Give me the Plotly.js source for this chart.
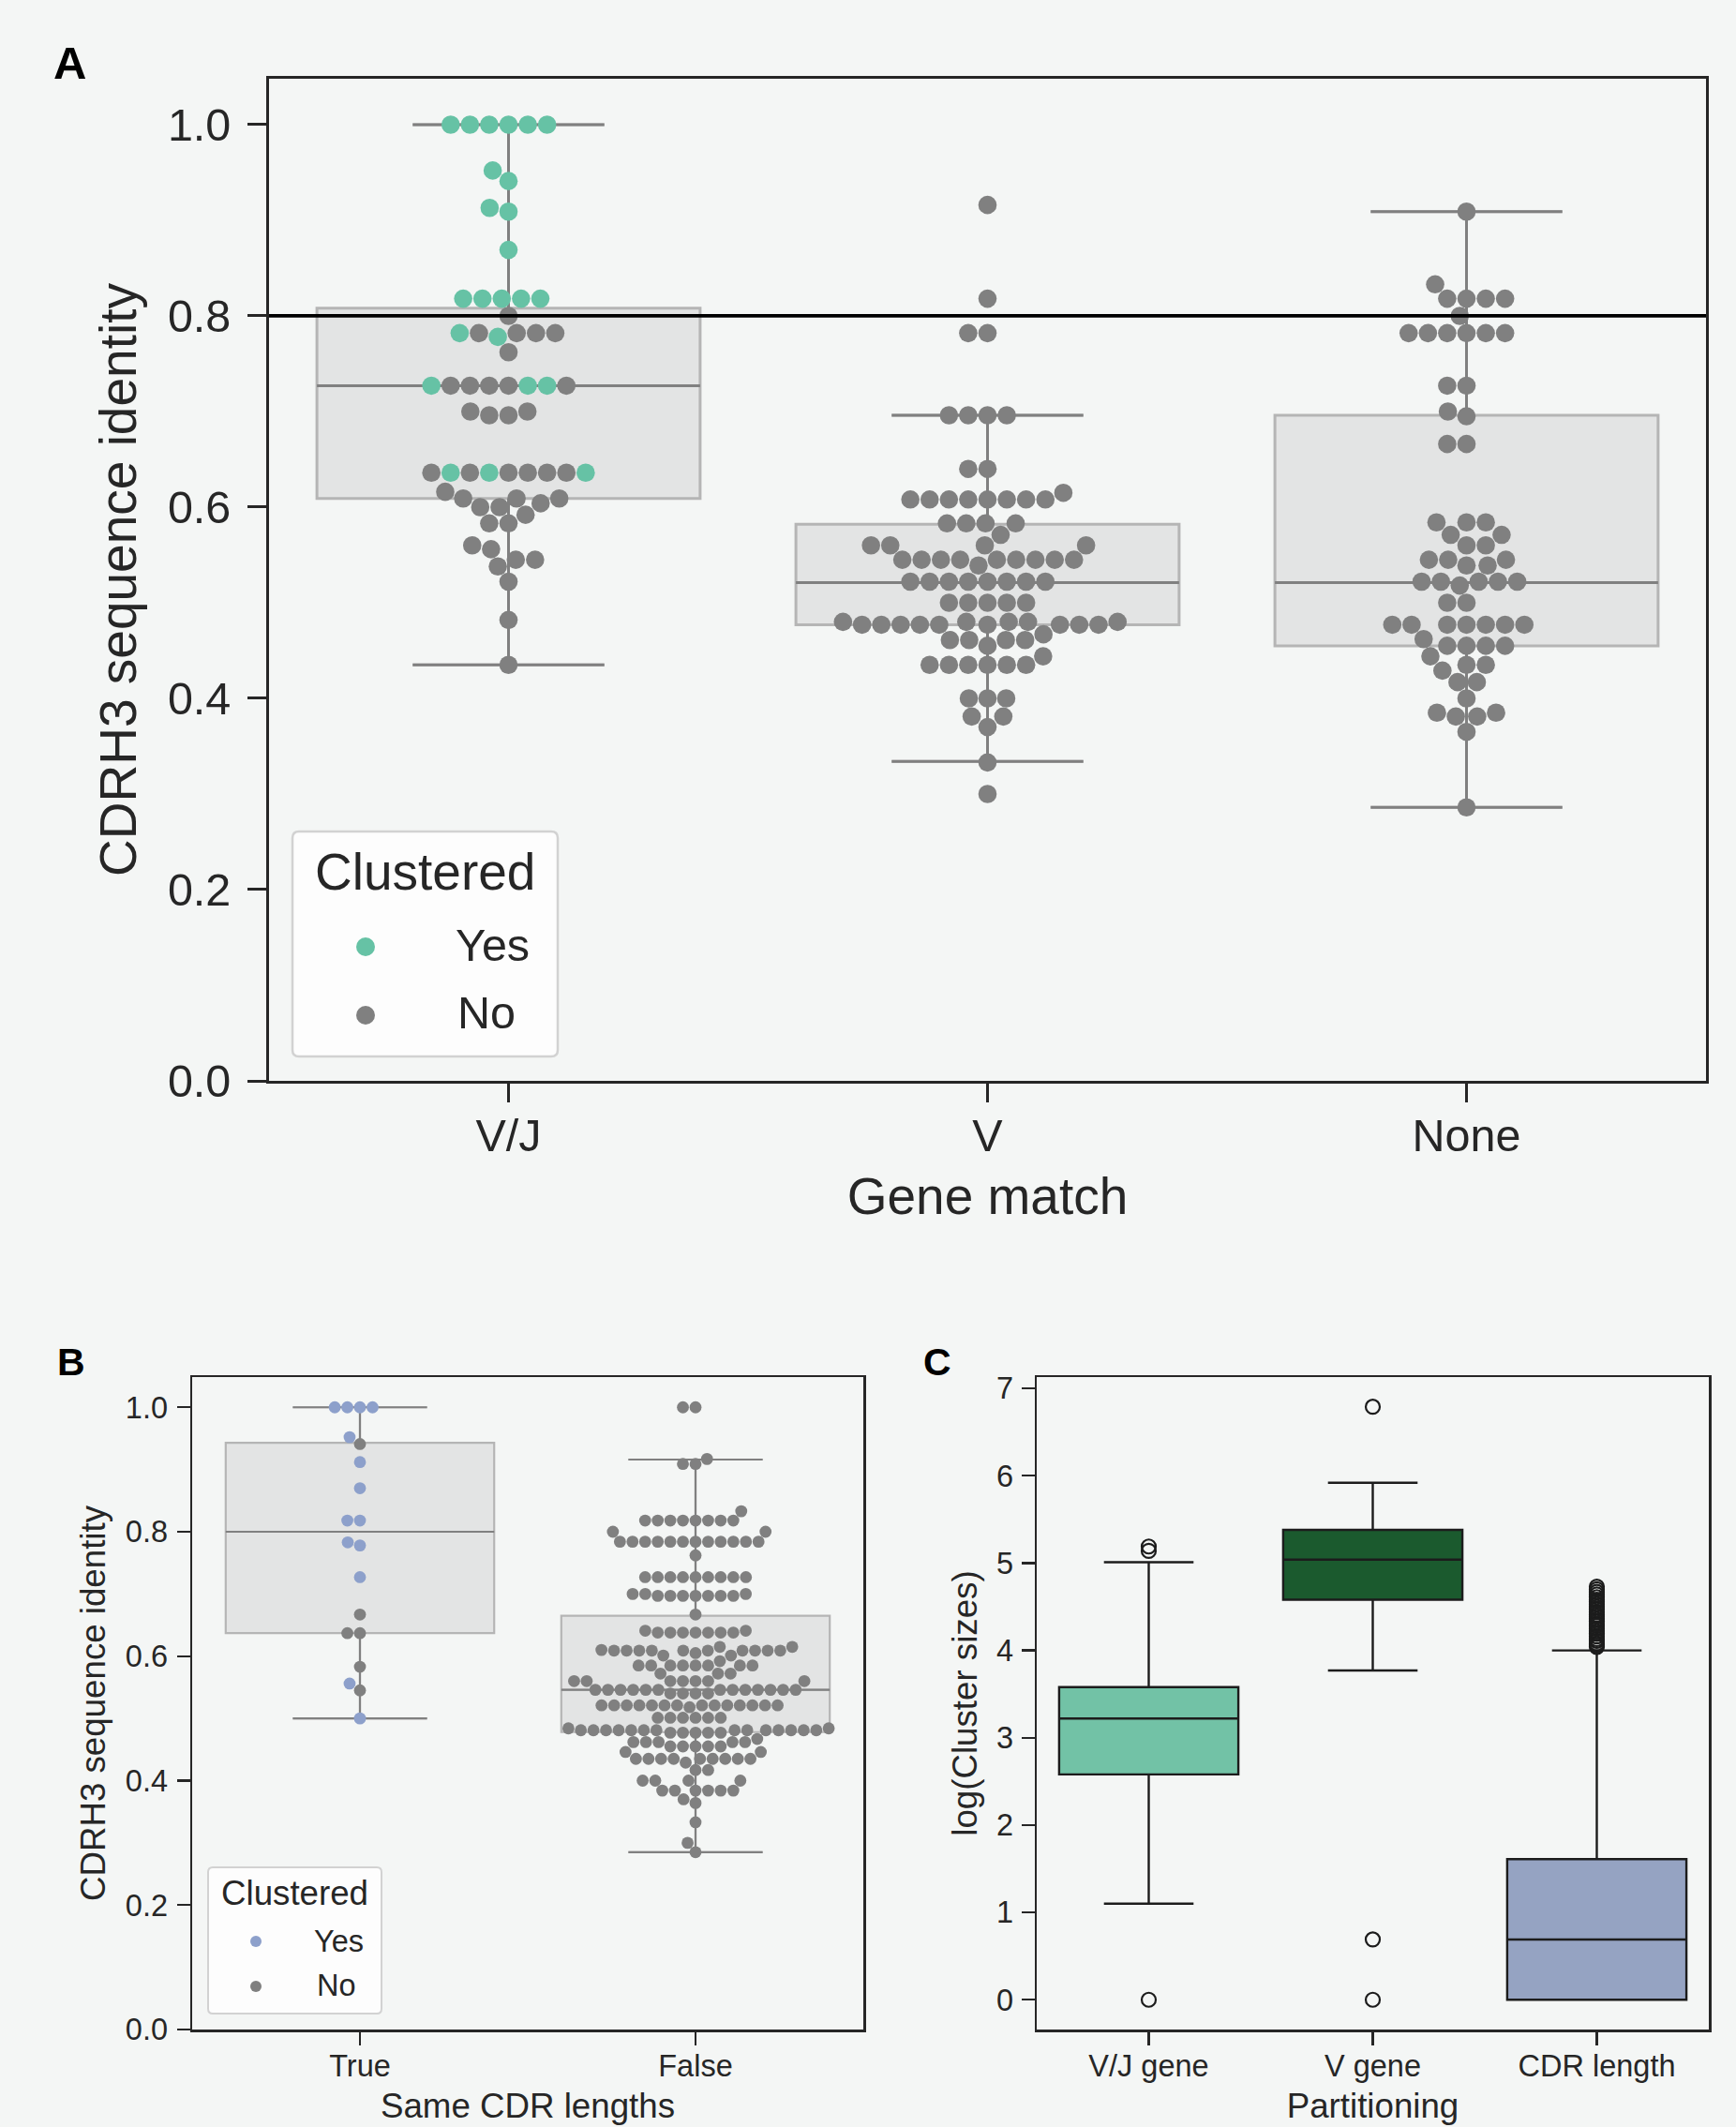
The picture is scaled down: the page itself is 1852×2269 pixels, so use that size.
<!DOCTYPE html>
<html>
<head>
<meta charset="utf-8">
<script src="https://cdn.plot.ly/plotly-3.0.1.min.js"></script>
<style>
html, body { margin: 0; padding: 0; background: #f4f6f5; }
#chart { width: 1852px; height: 2269px; }
</style>
</head>
<body>
<div id="chart"></div>
<script>
// ===================== DATA =====================
// Panel A: CDRH3 sequence identity by gene match
const geneMatch = ['V/J', 'V', 'None'];
const identityTicks = [0, 0.2, 0.4, 0.6, 0.8, 1.0];
const identityTickLabels = ['0.0', '0.2', '0.4', '0.6', '0.8', '1.0'];
const identityThreshold = 0.8;

const identityVJ = [
  1.0, 1.0, 1.0, 1.0, 1.0, 1.0,
  0.952, 0.941, 0.913, 0.909, 0.869,
  0.818, 0.818, 0.818, 0.818, 0.818,
  0.800,
  0.782, 0.782, 0.782, 0.782, 0.782,
  0.778, 0.762,
  0.727, 0.727, 0.727, 0.727, 0.727, 0.727, 0.727, 0.727,
  0.700, 0.700, 0.696, 0.696,
  0.636, 0.636, 0.636, 0.636, 0.636, 0.636, 0.636, 0.636, 0.636,
  0.616, 0.609, 0.609, 0.609, 0.604, 0.600, 0.600, 0.592, 0.583, 0.583,
  0.560, 0.556, 0.545, 0.545, 0.538, 0.522, 0.482, 0.435
];
const clusteredVJ = [
  1, 1, 1, 1, 1, 1,
  1, 1, 1, 1, 1,
  1, 1, 1, 1, 1,
  0,
  0, 0, 0, 0, 1,
  1, 0,
  0, 0, 1, 0, 1, 0, 0, 1,
  0, 0, 0, 0,
  0, 1, 0, 0, 0, 1, 0, 0, 1,
  0, 0, 0, 0, 0, 0, 0, 0, 0, 0,
  0, 0, 0, 0, 0, 0, 0, 0
];
const identityV = [
  0.916, 0.818, 0.782, 0.782,
  0.696, 0.696, 0.696, 0.696,
  0.640, 0.640, 0.615,
  0.608, 0.608, 0.608, 0.608, 0.608, 0.608, 0.608, 0.608,
  0.583, 0.583, 0.583, 0.583, 0.571,
  0.560, 0.560, 0.560, 0.560,
  0.545, 0.545, 0.545, 0.545, 0.545, 0.545, 0.545, 0.545, 0.545, 0.539,
  0.522, 0.522, 0.522, 0.522, 0.522, 0.522, 0.522, 0.522,
  0.500, 0.500, 0.500, 0.500, 0.500,
  0.480, 0.480, 0.480, 0.480, 0.480,
  0.477, 0.477, 0.477, 0.477, 0.477, 0.477, 0.477, 0.477, 0.477,
  0.467, 0.461, 0.461, 0.461, 0.461, 0.455, 0.444,
  0.435, 0.435, 0.435, 0.435, 0.435, 0.435,
  0.400, 0.400, 0.400, 0.381, 0.381, 0.370, 0.333, 0.300
];
const identityNone = [
  0.909, 0.833, 0.818, 0.818, 0.818, 0.818, 0.800,
  0.782, 0.782, 0.782, 0.782, 0.782, 0.782,
  0.727, 0.727, 0.700, 0.695, 0.666, 0.666,
  0.584, 0.584, 0.584, 0.571, 0.571, 0.560, 0.560,
  0.545, 0.545, 0.545, 0.539, 0.539,
  0.522, 0.522, 0.522, 0.522, 0.522, 0.518, 0.500, 0.500,
  0.477, 0.477, 0.477, 0.477, 0.477, 0.477, 0.477,
  0.462, 0.455, 0.455, 0.455, 0.455, 0.444, 0.435, 0.435, 0.429,
  0.417, 0.417, 0.400, 0.385, 0.385, 0.381, 0.381, 0.365, 0.286
];
// Box statistics for panel A (Q1, median, Q3, whisker ends) per gene match
const boxQ1A = [0.609, 0.477, 0.455];
const boxMedianA = [0.727, 0.521, 0.521];
const boxQ3A = [0.808, 0.582, 0.696];
const whiskerLowA = [0.435, 0.334, 0.286];
const whiskerHighA = [1.0, 0.696, 0.909];

// Panel B: CDRH3 sequence identity by same CDR lengths
const sameCdrLengths = ['True', 'False'];
const identityTrue = [1.0, 1.0, 1.0, 1.0, 0.952, 0.941, 0.912, 0.870, 0.818, 0.818,
  0.783, 0.778, 0.727, 0.667, 0.637, 0.637, 0.583, 0.556, 0.545, 0.500];
const clusteredTrue = [1, 1, 1, 1, 1, 0, 1, 1, 1, 1,
  1, 1, 1, 0, 0, 0, 0, 1, 0, 1];
const identityFalse = [
  1.0, 1.0, 0.917, 0.909, 0.909, 0.833,
  0.818, 0.818, 0.818, 0.818, 0.818, 0.818, 0.818, 0.818,
  0.800, 0.800,
  0.784, 0.784, 0.784, 0.784, 0.784, 0.784, 0.784, 0.784, 0.784, 0.784, 0.784, 0.784,
  0.762,
  0.727, 0.727, 0.727, 0.727, 0.727, 0.727, 0.727, 0.727, 0.727,
  0.700, 0.700, 0.700, 0.697, 0.697, 0.697, 0.697, 0.697, 0.697, 0.697,
  0.667, 0.641, 0.641,
  0.638, 0.638, 0.638, 0.638, 0.638, 0.638, 0.638,
  0.615, 0.615, 0.610,
  0.609, 0.609, 0.609, 0.609, 0.609, 0.609, 0.609, 0.609, 0.609, 0.609,
  0.605, 0.601, 0.601, 0.592,
  0.585, 0.585, 0.585, 0.585, 0.585, 0.585, 0.585, 0.585,
  0.572, 0.572, 0.572,
  0.560, 0.560, 0.560, 0.560, 0.560, 0.560, 0.560,
  0.546, 0.546, 0.546, 0.546, 0.546, 0.546, 0.546, 0.546, 0.546, 0.546, 0.546, 0.546, 0.546,
  0.540, 0.540, 0.540, 0.540,
  0.521, 0.521, 0.521, 0.521, 0.521, 0.521, 0.521, 0.521, 0.521, 0.521, 0.521, 0.521, 0.521, 0.521,
  0.518,
  0.501, 0.501, 0.501, 0.501, 0.501, 0.501,
  0.484, 0.484,
  0.481, 0.481, 0.481, 0.481, 0.481, 0.481, 0.481, 0.481, 0.481, 0.481, 0.481, 0.481, 0.481, 0.481,
  0.477, 0.477, 0.477, 0.477, 0.477,
  0.467,
  0.462, 0.462, 0.462, 0.462, 0.462,
  0.455, 0.455, 0.455, 0.455, 0.455,
  0.446, 0.446,
  0.435, 0.435, 0.435, 0.435, 0.435, 0.435, 0.435, 0.435, 0.435,
  0.429, 0.417, 0.417,
  0.400, 0.400, 0.400, 0.400,
  0.384, 0.384, 0.384, 0.384, 0.384, 0.384,
  0.370, 0.364, 0.333, 0.300, 0.285
];
const boxQ1B = [0.637, 0.478];
const boxMedianB = [0.800, 0.546];
const boxQ3B = [0.943, 0.665];
const whiskerLowB = [0.500, 0.285];
const whiskerHighB = [1.0, 0.916];

// Panel C: log(cluster sizes) by partitioning
const partitions = ['V/J gene', 'V gene', 'CDR length'];
const logTicks = [0, 1, 2, 3, 4, 5, 6, 7];
const logQ1 = [2.58, 4.58, 0.00];
const logMedian = [3.22, 5.04, 0.69];
const logQ3 = [3.58, 5.38, 1.61];
const logWhiskerLow = [1.10, 3.77, 0.00];
const logWhiskerHigh = [5.01, 5.92, 4.00];
const outliersVJgene = [5.19, 5.14, 0.00];
const outliersVgene = [6.79, 0.69, 0.00];
const outliersCdrLength = [4.04, 4.06, 4.08, 4.11, 4.13, 4.16, 4.19, 4.22, 4.25, 4.28, 4.30, 4.33,
  4.36, 4.39, 4.41, 4.44, 4.47, 4.50, 4.53, 4.56, 4.58, 4.61, 4.64, 4.67, 4.70, 4.73];

// ===================== STYLE / LAYOUT CONSTANTS =====================
const W = 1852, H = 2269;
const BG = '#f4f6f5';
const INK = '#262626';
const TEAL = '#66c2a5', GREY = '#808080', BLUE = '#8da0cb';
const BOX_FILL = '#e3e4e4', BOX_EDGE = '#b5b5b5';
const C_FILLS = ['#72c2a6', '#1b5a2e', '#95a3c2'];
const FONT = 'Liberation Sans, Arial, Helvetica, sans-serif';
const DOT_A = 19.6, DOT_B = 12.8;

const R = {
  A: { l: 287, r: 1820, t: 84, b: 1153 },
  B: { l: 205, r: 921, t: 1469, b: 2165 },
  C: { l: 1106, r: 1823, t: 1469, b: 2165 }
};
const rangeA = [0, 1.048], rangeB = [0, 1.0486], rangeC = [-0.341, 7.13];
const fx = p => p / W;
const fy = p => 1 - p / H;

// ===================== SWARM LAYOUT (seaborn-like beeswarm) =====================
function swarmX(values, cat, pxPerCat, pxPerUnit, diameter) {
  const r = diameter / 2;
  const order = values.map((v, i) => i).sort((a, b) => (values[a] - values[b]) || (a - b));
  const placed = [];
  for (const i of order) {
    const y = values[i] * pxPerUnit;
    const nb = [];
    for (let k = placed.length - 1; k >= 0; k--) {
      if (y - placed[k].y < 2 * r) nb.unshift(placed[k]); else break;
    }
    const cands = [{ x: 0, y }];
    let leftFirst = true;
    for (const n of nb) {
      const dy = y - n.y;
      const dx = Math.sqrt(Math.max(4 * r * r - dy * dy, 0)) * 1.05;
      const cl = { x: n.x - dx, y }, cr = { x: n.x + dx, y };
      if (leftFirst) cands.push(cl, cr); else cands.push(cr, cl);
      leftFirst = !leftFirst;
    }
    const ord = cands.map((c, k) => k).sort((a, b) => (Math.abs(cands[a].x) - Math.abs(cands[b].x)) || (a - b));
    let chosen = cands[0];
    for (const k of ord) {
      const c = cands[k];
      let ok = true;
      for (const n of nb) {
        const ddx = c.x - n.x, ddy = c.y - n.y;
        if (ddx * ddx + ddy * ddy < 4 * r * r - 1e-6) { ok = false; break; }
      }
      if (ok) { chosen = c; break; }
    }
    placed.push({ x: chosen.x, y, i });
  }
  const out = new Array(values.length);
  for (const p of placed) {
    let off = p.x / pxPerCat;
    off = Math.max(-0.4, Math.min(0.4, off));
    out[p.i] = cat + off;
  }
  return out;
}

const pxCatA = (R.A.r - R.A.l) / geneMatch.length;
const pxUnitA = (R.A.b - R.A.t) / (rangeA[1] - rangeA[0]);
const pxCatB = (R.B.r - R.B.l) / sameCdrLengths.length;
const pxUnitB = (R.B.b - R.B.t) / (rangeB[1] - rangeB[0]);

const xVJ = swarmX(identityVJ, 0, pxCatA, pxUnitA, DOT_A);
const xV = swarmX(identityV, 1, pxCatA, pxUnitA, DOT_A);
const xNone = swarmX(identityNone, 2, pxCatA, pxUnitA, DOT_A);
const xTrue = swarmX(identityTrue, 0, pxCatB, pxUnitB, DOT_B);
const xFalse = swarmX(identityFalse, 1, pxCatB, pxUnitB, DOT_B);

function pick(xs, ys, flags, want) {
  const ox = [], oy = [];
  xs.forEach((x, i) => { if ((flags ? flags[i] : 0) === want) { ox.push(x); oy.push(ys[i]); } });
  return { x: ox, y: oy };
}

// ===================== TRACES =====================
const traces = [];

function greyBoxes(xa, ya, n, q1, med, q3, lo, hi, lw) {
  for (let i = 0; i < n; i++) {
    traces.push({
      type: 'box', xaxis: xa, yaxis: ya, x: [i],
      q1: [q1[i]], median: [med[i]], q3: [q3[i]], lowerfence: [lo[i]], upperfence: [hi[i]],
      width: 0.8, whiskerwidth: 0.5, fillcolor: BOX_FILL,
      line: { color: BOX_EDGE, width: lw }, boxpoints: false, showlegend: false, hoverinfo: 'skip'
    });
  }
}
function whiskerLines(xa, ya, n, q1, med, q3, lo, hi, lw) {
  const xs = [], ys = [];
  for (let i = 0; i < n; i++) {
    xs.push(i - 0.4, i + 0.4, null, i, i, null, i - 0.2, i + 0.2, null, i, i, null, i - 0.2, i + 0.2, null);
    ys.push(med[i], med[i], null, q1[i], lo[i], null, lo[i], lo[i], null, q3[i], hi[i], null, hi[i], hi[i], null);
  }
  traces.push({
    type: 'scatter', mode: 'lines', xaxis: xa, yaxis: ya, x: xs, y: ys,
    line: { color: GREY, width: lw }, showlegend: false, hoverinfo: 'skip'
  });
}

// Panel A boxes
greyBoxes('x', 'y', 3, boxQ1A, boxMedianA, boxQ3A, whiskerLowA, whiskerHighA, 3);
// Panel B boxes
greyBoxes('x2', 'y2', 2, boxQ1B, boxMedianB, boxQ3B, whiskerLowB, whiskerHighB, 2.2);
// Panel C boxes
partitions.forEach((p, i) => {
  traces.push({
    type: 'box', xaxis: 'x3', yaxis: 'y3', x: [i],
    q1: [logQ1[i]], median: [logMedian[i]], q3: [logQ3[i]],
    lowerfence: [logWhiskerLow[i]], upperfence: [logWhiskerHigh[i]],
    width: 0.8, whiskerwidth: 0.5, fillcolor: C_FILLS[i],
    line: { color: '#1c1c1c', width: 2.4 }, boxpoints: false, showlegend: false, hoverinfo: 'skip'
  });
});

whiskerLines('x', 'y', 3, boxQ1A, boxMedianA, boxQ3A, whiskerLowA, whiskerHighA, 3);
whiskerLines('x2', 'y2', 2, boxQ1B, boxMedianB, boxQ3B, whiskerLowB, whiskerHighB, 2.2);

// Panel A points
const allAx = xVJ.concat(xV, xNone);
const allAy = identityVJ.concat(identityV, identityNone);
const allAf = clusteredVJ.concat(identityV.map(() => 0), identityNone.map(() => 0));
const aNo = pick(allAx, allAy, allAf, 0), aYes = pick(allAx, allAy, allAf, 1);
traces.push({ type: 'scatter', mode: 'markers', xaxis: 'x', yaxis: 'y', x: aNo.x, y: aNo.y, name: 'No',
  marker: { color: GREY, size: DOT_A, line: { width: 0 } }, showlegend: false, cliponaxis: false });
traces.push({ type: 'scatter', mode: 'markers', xaxis: 'x', yaxis: 'y', x: aYes.x, y: aYes.y, name: 'Yes',
  marker: { color: TEAL, size: DOT_A, line: { width: 0 } }, showlegend: false, cliponaxis: false });

// Panel B points
const allBx = xTrue.concat(xFalse);
const allBy = identityTrue.concat(identityFalse);
const allBf = clusteredTrue.concat(identityFalse.map(() => 0));
const bNo = pick(allBx, allBy, allBf, 0), bYes = pick(allBx, allBy, allBf, 1);
traces.push({ type: 'scatter', mode: 'markers', xaxis: 'x2', yaxis: 'y2', x: bNo.x, y: bNo.y, name: 'No',
  marker: { color: GREY, size: DOT_B, line: { width: 0 } }, showlegend: false, cliponaxis: false });
traces.push({ type: 'scatter', mode: 'markers', xaxis: 'x2', yaxis: 'y2', x: bYes.x, y: bYes.y, name: 'Yes',
  marker: { color: BLUE, size: DOT_B, line: { width: 0 } }, showlegend: false, cliponaxis: false });

// Panel C outliers
const outlierSets = [outliersVJgene, outliersVgene, outliersCdrLength];
outlierSets.forEach((vals, i) => {
  traces.push({ type: 'scatter', mode: 'markers', xaxis: 'x3', yaxis: 'y3',
    x: vals.map(() => i), y: vals,
    marker: { symbol: 'circle-open', color: '#1c1c1c', size: 15, line: { width: 2.2, color: '#1c1c1c' } },
    showlegend: false, cliponaxis: false });
});

// ===================== AXES =====================
function axis(extra, big) {
  return Object.assign({
    showline: true, mirror: true, linecolor: INK, linewidth: big ? 3 : 2.5,
    ticks: 'outside', ticklen: big ? 20 : 14, tickwidth: big ? 3 : 2.2, tickcolor: INK,
    showgrid: false, zeroline: false, fixedrange: true,
    tickfont: { family: FONT, size: big ? 48.5 : 32.5, color: INK }
  }, extra);
}

const layout = {
  width: W, height: H,
  margin: { l: 0, r: 0, t: 0, b: 0 },
  paper_bgcolor: BG, plot_bgcolor: BG,
  showlegend: false,
  font: { family: FONT, color: INK },
  xaxis: axis({ domain: [fx(R.A.l), fx(R.A.r)], range: [-0.5, 2.5], anchor: 'y',
    tickvals: [0, 1, 2], ticktext: geneMatch, ticklabelstandoff: -6,
    title: { text: 'Gene match', font: { family: FONT, size: 55, color: INK }, standoff: 20 } }, true),
  yaxis: axis({ domain: [fy(R.A.b), fy(R.A.t)], range: rangeA, anchor: 'x',
    tickvals: identityTicks, ticktext: identityTickLabels, ticklabelstandoff: 8,
    title: { text: 'CDRH3 sequence identity', font: { family: FONT, size: 55, color: INK }, standoff: 16 } }, true),
  xaxis2: axis({ domain: [fx(R.B.l), fx(R.B.r)], range: [-0.5, 1.5], anchor: 'y2',
    tickvals: [0, 1], ticktext: sameCdrLengths, ticklabelstandoff: -6,
    title: { text: 'Same CDR lengths', font: { family: FONT, size: 36.7, color: INK }, standoff: 13 } }, false),
  yaxis2: axis({ domain: [fy(R.B.b), fy(R.B.t)], range: rangeB, anchor: 'x2',
    tickvals: identityTicks, ticktext: identityTickLabels, ticklabelstandoff: 3,
    title: { text: 'CDRH3 sequence identity', font: { family: FONT, size: 36.7, color: INK }, standoff: 10 } }, false),
  xaxis3: axis({ domain: [fx(R.C.l), fx(R.C.r)], range: [-0.5, 2.5], anchor: 'y3',
    tickvals: [0, 1, 2], ticktext: partitions, ticklabelstandoff: -6,
    title: { text: 'Partitioning', font: { family: FONT, size: 36.7, color: INK }, standoff: 13 } }, false),
  yaxis3: axis({ domain: [fy(R.C.b), fy(R.C.t)], range: rangeC, anchor: 'x3',
    tickvals: logTicks, ticklabelstandoff: 2,
    title: { text: 'log(Cluster sizes)', font: { family: FONT, size: 36.7, color: INK }, standoff: 9 } }, false),
  shapes: [],
  annotations: []
};

// Threshold line in panel A
layout.shapes.push({ type: 'line', xref: 'x domain', yref: 'y', x0: 0, x1: 1,
  y0: identityThreshold, y1: identityThreshold, line: { color: '#000000', width: 3.8 }, layer: 'above' });

// Rounded legend frame helper
function roundedRect(l, t, r, b, rad) {
  const rx = rad / W, ry = rad / H;
  const L = fx(l), Rr = fx(r), T = fy(t), B = fy(b);
  return `M ${L + rx} ${T} L ${Rr - rx} ${T} Q ${Rr} ${T} ${Rr} ${T - ry} L ${Rr} ${B + ry} Q ${Rr} ${B} ${Rr - rx} ${B} ` +
         `L ${L + rx} ${B} Q ${L} ${B} ${L} ${B + ry} L ${L} ${T - ry} Q ${L} ${T} ${L + rx} ${T} Z`;
}
function legend(frame, rad, lw, title, titleSize, items, itemSize, dot) {
  layout.shapes.push({ type: 'path', xref: 'paper', yref: 'paper', path: roundedRect(frame.l, frame.t, frame.r, frame.b, rad),
    fillcolor: 'rgba(255,255,255,0.8)', line: { color: '#d2d2d2', width: lw }, layer: 'above' });
  layout.annotations.push({ xref: 'paper', yref: 'paper', x: fx(title.x), y: fy(title.y), text: title.text,
    xanchor: 'center', yanchor: 'middle', showarrow: false, font: { family: FONT, size: titleSize, color: INK } });
  items.forEach(it => {
    layout.shapes.push({ type: 'circle', xref: 'paper', yref: 'paper', xsizemode: 'pixel', ysizemode: 'pixel',
      xanchor: fx(it.dx), yanchor: fy(it.dy), x0: -dot / 2, x1: dot / 2, y0: -dot / 2, y1: dot / 2,
      fillcolor: it.color, line: { width: 0 }, layer: 'above' });
    layout.annotations.push({ xref: 'paper', yref: 'paper', x: fx(it.tx), y: fy(it.ty), text: it.text,
      xanchor: 'left', yanchor: 'middle', showarrow: false, font: { family: FONT, size: itemSize, color: INK } });
  });
}
legend({ l: 312, t: 887, r: 595, b: 1127 }, 7, 2.5, { x: 453, y: 930, text: 'Clustered' }, 55,
  [{ dx: 390, dy: 1010, tx: 484, ty: 1008, text: 'Yes', color: TEAL },
   { dx: 390, dy: 1083, tx: 486, ty: 1080, text: 'No', color: GREY }], 48.5, 20);
legend({ l: 222, t: 1992, r: 407, b: 2148 }, 5, 2, { x: 314, y: 2019, text: 'Clustered' }, 36.7,
  [{ dx: 273, dy: 2071, tx: 333, ty: 2071, text: 'Yes', color: BLUE },
   { dx: 273, dy: 2119, tx: 336, ty: 2118, text: 'No', color: GREY }], 32.5, 12);

// Panel letters
[['A', 55, 67, 49], ['B', 59, 1453, 41], ['C', 983, 1453, 41]].forEach(([t, x, y, s]) => {
  layout.annotations.push({ xref: 'paper', yref: 'paper', x: fx(x), y: fy(y), text: '<b>' + t + '</b>',
    xanchor: 'left', yanchor: 'middle', showarrow: false, font: { family: FONT, size: s, color: '#000000' } });
});

Plotly.newPlot('chart', traces, layout, { staticPlot: true, displayModeBar: false });
</script>
</body>
</html>
